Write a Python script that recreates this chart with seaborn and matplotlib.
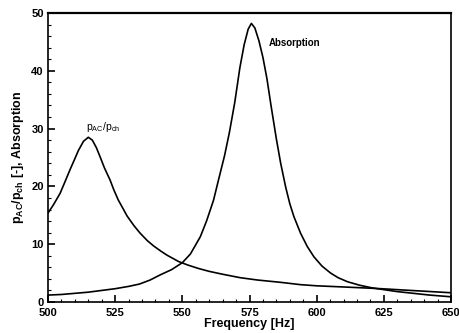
import matplotlib
matplotlib.use("Agg")
import matplotlib.pyplot as plt
import seaborn as sns
import pandas as pd
from matplotlib.ticker import MultipleLocator

# Absorption curve
abs_freq = [500, 505, 510, 515, 520, 525, 530, 534, 538, 541.8, 546, 550, 553, 556.7, 559,
            561.6, 563.5, 565.7, 567.5, 569.5, 571.4, 573, 574.5, 575.7, 577, 578.5, 580,
            581.5, 583, 585, 586.6, 588.5, 590, 591.5, 594, 596.5, 599, 602, 605.2, 608,
            611.5, 616, 620, 624, 630, 636, 642, 650]
abs_val = [1.2, 1.3, 1.5, 1.7, 2.0, 2.3, 2.7, 3.1, 3.8, 4.7, 5.6, 6.8, 8.3, 11.3, 14.0,
           17.6, 21.2, 25.3, 29.3, 34.5, 40.5, 44.5, 47.2, 48.2, 47.4, 45.2, 42.3,
           38.6, 34.0, 28.2, 24.0, 19.8, 17.0, 14.8, 11.9, 9.6, 7.8, 6.2, 5.0, 4.2,
           3.5, 2.9, 2.5, 2.2, 1.8, 1.5, 1.2, 0.9]

# pAC/pch curve
p_freq = [500, 502, 504.5, 506.5, 508.2, 510, 511.3, 513.2, 515, 516.5, 518, 519.4, 521,
          523.1, 524.5, 526.2, 528, 529.4, 532, 534.3, 537, 539.3, 542, 544.3, 548.6,
          552, 556, 560, 565, 571.6, 578, 586.6, 594, 600, 610, 624, 635, 650]
p_val = [15.4, 16.8, 18.8, 21.0, 22.9, 24.8, 26.2, 27.8, 28.5, 28.0, 26.7, 25.1, 23.2,
         21.1, 19.4, 17.6, 16.1, 14.9, 13.2, 11.9, 10.6, 9.7, 8.8, 8.1, 7.0,
         6.4, 5.8, 5.3, 4.8, 4.2, 3.8, 3.4, 3.0, 2.8, 2.6, 2.3, 2.0, 1.6]

x_ticks = [500, 525, 550, 575, 600, 625, 650]
y_ticks = [0, 10, 20, 30, 40, 50]

sns.set_style("ticks")
plt.rcParams['font.family'] = ['Liberation Sans', 'DejaVu Sans']
plt.rcParams['mathtext.fontset'] = 'custom'
plt.rcParams['mathtext.rm'] = 'Liberation Sans:bold'
plt.rcParams['mathtext.it'] = 'Liberation Sans:bold'
plt.rcParams['mathtext.bf'] = 'Liberation Sans:bold'
plt.rcParams['text.color'] = 'black'
plt.rcParams['axes.labelcolor'] = 'black'

fig = plt.figure(figsize=(4.59, 3.33), dpi=100)
ax = fig.add_axes([0.1046, 0.0931, 0.8780, 0.8679])

df_abs = pd.DataFrame({"f": abs_freq, "v": abs_val})
df_p = pd.DataFrame({"f": p_freq, "v": p_val})
sns.lineplot(data=df_abs, x="f", y="v", ax=ax, color="black", lw=1.2, sort=False)
sns.lineplot(data=df_p, x="f", y="v", ax=ax, color="black", lw=1.2, sort=False)

ax.set_xlim(500, 650)
ax.set_ylim(0, 50)
ax.set_xticks(x_ticks)
ax.set_yticks(y_ticks)
ax.xaxis.set_minor_locator(MultipleLocator(5))
ax.yaxis.set_minor_locator(MultipleLocator(2))
ax.tick_params(axis='both', which='major', direction='in', length=5, width=1.2,
               labelsize=8, colors='black')
ax.tick_params(axis='x', which='major', pad=4)
ax.tick_params(axis='y', which='major', pad=3)
ax.tick_params(axis='both', which='minor', direction='in', length=2.5, width=0.8,
               colors='black')
for lab in ax.get_xticklabels() + ax.get_yticklabels():
    lab.set_fontweight('bold')
for s in ax.spines.values():
    s.set_linewidth(1.2)
    s.set_color('black')
ax.spines['top'].set_linewidth(1.6)

ax.set_xlabel("Frequency [Hz]", fontsize=9, fontweight='bold', labelpad=0, color='black')
ax.set_ylabel(r"$\mathregular{p_{AC}/p_{ch}}$ [-], Absorption", fontsize=9,
              fontweight='bold', labelpad=4, color='black')

ax.text(582.0, 44.8, "Absorption", fontsize=7, fontweight='bold', va='center', ha='left')
ax.text(514.2, 30.3, r"$\mathregular{p_{AC}/p_{ch}}$", fontsize=7.5, va='center', ha='left')

fig.savefig("out.png", dpi=100)
